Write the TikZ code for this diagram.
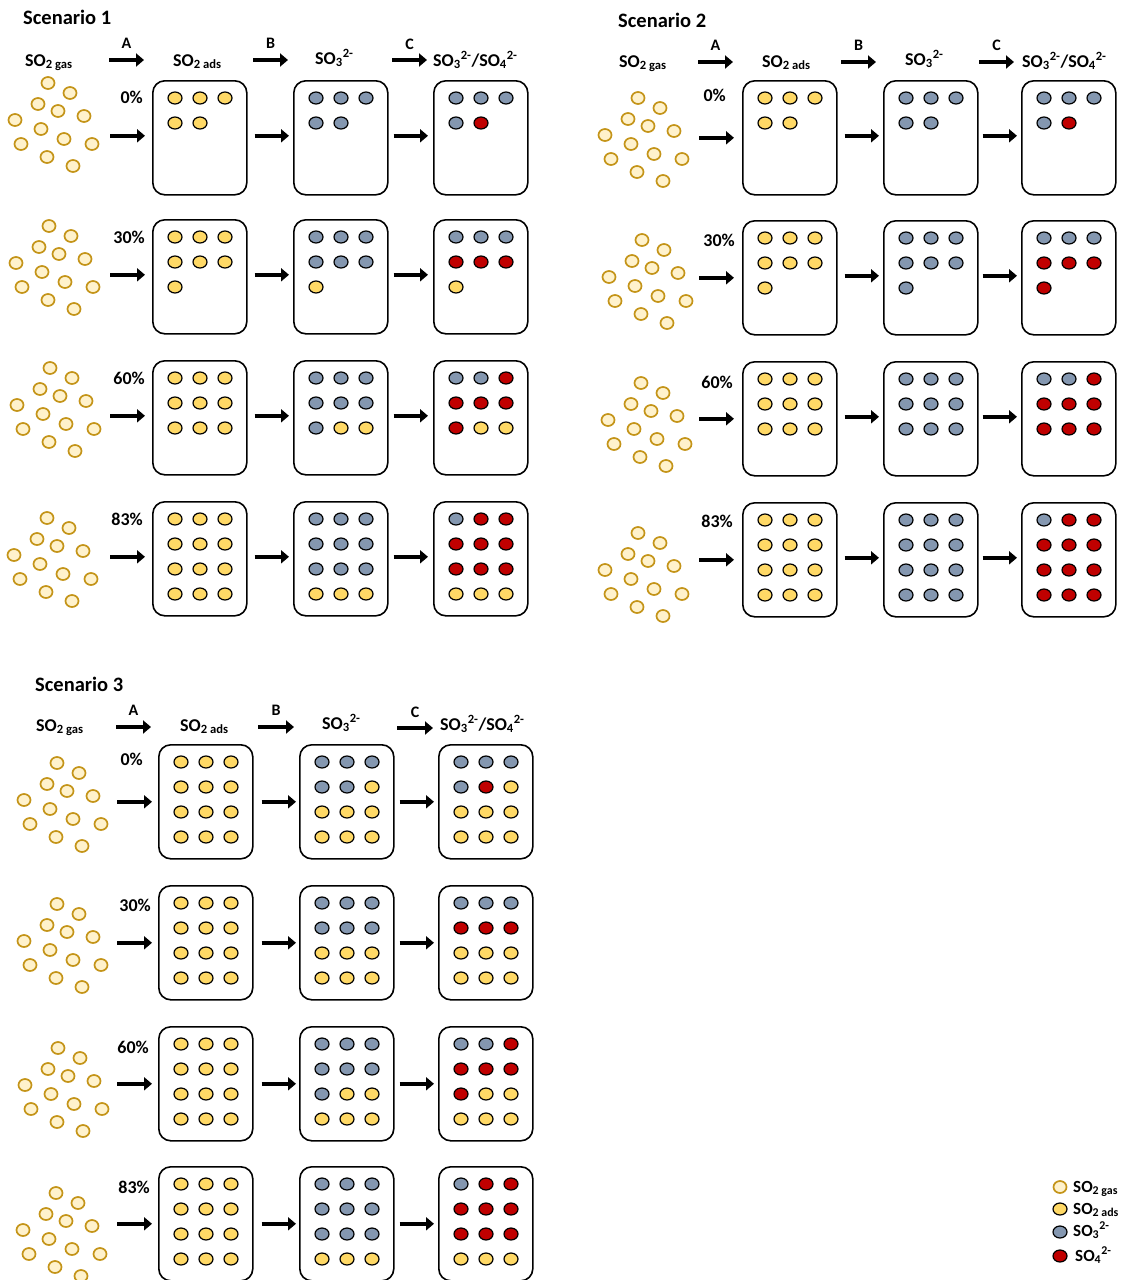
\documentclass[tikz,border=0pt]{standalone}
\usepackage{fontspec}
\setmainfont{Carlito}
\usepackage{amsmath}
\usetikzlibrary{arrows.meta,calc}

\definecolor{gasline}{RGB}{196,148,24}
\definecolor{gasfill}{RGB}{255,242,204}
\definecolor{adsfill}{RGB}{255,217,102}
\definecolor{sulfite}{RGB}{132,151,176}
\definecolor{sulfate}{RGB}{192,0,0}

% twelve gas molecules, #1,#2 = the top one
\newcommand{\gascloud}[2]{%
  \foreach \ox/\oy in {0/0,22/10,-10/21,10/28,36/33,-33/37,-7/46,16/56,44/61,-27/61,-1/74,25/83}
    \draw[gas] (#1+\ox,#2+\oy) ellipse [x radius=6.5,y radius=6];}
% surface sites of a cell, filled three per row
\newcommand{\fillcell}[2]{%
  \foreach \c [count=\k from 0] in {#2}{
    \pgfmathtruncatemacro{\dc}{mod(\k,3)}
    \pgfmathtruncatemacro{\dr}{int(\k/3)}
    \draw[dot,dot \c] ($(#1.north west)+(23+25*\dc,18+25*\dr)$) ellipse [x radius=7,y radius=6];}}
% species labels
\newcommand{\sotwo}[1]{SO$_{\text{2 #1}}$}
\newcommand{\ion}[1]{SO$_{\text{#1}}{}^{\text{2-}}$}

\begin{document}
\begin{tikzpicture}[x=1pt,y=-1pt,
  fat/.style={line width=4.5pt,-{Triangle[length=8pt,width=13pt]}},
  cell/.style={draw,line width=1.6pt,rounded corners=12pt,anchor=north west,
    minimum width=94pt,minimum height=114pt,inner sep=0pt},
  gas/.style={draw=gasline,fill=gasfill,line width=1.7pt},
  dot/.style={draw=black,line width=1.2pt},
  dot y/.style={fill=adsfill},dot g/.style={fill=sulfite},dot r/.style={fill=sulfate},
  ttl/.style={font=\fontsize{20.5}{24}\selectfont\bfseries,anchor=base west,inner sep=0pt},
  hdr/.style={font=\fontsize{18}{21}\selectfont\bfseries,anchor=base west,inner sep=0pt},
  stp/.style={font=\fontsize{16}{18}\selectfont\bfseries,inner sep=0pt},
  pct/.style={font=\fontsize{18}{21}\selectfont\bfseries,anchor=base east,inner sep=0pt},
  leg/.style={font=\fontsize{17}{19}\selectfont\bfseries,anchor=base west,inner sep=0pt}]
\useasboundingbox (0,0) rectangle (1123,1280);
\fill[white] (0,0) rectangle (1123,1280);

% scenario 1
\node[ttl] (s1) at (23,24) {Scenario 1};
\node[hdr] (s1gas) at (25,66) {\sotwo{gas}};
\node[hdr] (s1ads) at (173,66) {\sotwo{ads}};
\node[hdr] (s1so3) at (315,64) {\ion{3}};
\node[hdr] (s1mix) at (433,66) {\ion{3}/\ion{4}};
\coordinate (s1A) at (109,60);
\coordinate (s1B) at (253,60);
\coordinate (s1C) at (392,60);
\draw[fat] (s1A) -- ++(35,0) node[stp,midway,above=9pt] (s1Al) {A};
\draw[fat] (s1B) -- ++(35,0) node[stp,midway,above=9pt] (s1Bl) {B};
\draw[fat] (s1C) -- ++(35,0) node[stp,midway,above=8pt] (s1Cl) {C};
\foreach \r/\y/\p/\px/\py/\cx/\cy in {1/80/0/143/103/48/83,2/219/30/145/243/49/226,
    3/360/60/145/384/50/368,4/501/83/143/525/47/518}{
  \node[cell] (s1a\r) at (152,\y) {};
  \node[cell] (s1b\r) at (293,\y) {};
  \node[cell] (s1c\r) at (433,\y) {};
  \node[pct] (s1p\r) at (\px,\py) {\p\%};
  \gascloud{\cx}{\cy}
  \draw[fat] ([xshift=-42pt,yshift=2pt]s1a\r.west) -- ([xshift=-7pt,yshift=2pt]s1a\r.west);
  \draw[fat] ([xshift=7pt,yshift=2pt]s1a\r.east) -- ([xshift=-4pt,yshift=2pt]s1b\r.west);
  \draw[fat] ([xshift=5pt,yshift=2pt]s1b\r.east) -- ([xshift=-5pt,yshift=2pt]s1c\r.west);
}
\fillcell{s1a1}{y,y,y,y,y}\fillcell{s1b1}{g,g,g,g,g}\fillcell{s1c1}{g,g,g,g,r}
\fillcell{s1a2}{y,y,y,y,y,y,y}\fillcell{s1b2}{g,g,g,g,g,g,y}\fillcell{s1c2}{g,g,g,r,r,r,y}
\fillcell{s1a3}{y,y,y,y,y,y,y,y,y}\fillcell{s1b3}{g,g,g,g,g,g,g,y,y}\fillcell{s1c3}{g,g,r,r,r,r,r,y,y}
\fillcell{s1a4}{y,y,y,y,y,y,y,y,y,y,y,y}\fillcell{s1b4}{g,g,g,g,g,g,g,g,g,y,y,y}
\fillcell{s1c4}{g,r,r,r,r,r,r,r,r,y,y,y}

% scenario 2
\node[ttl] (s2) at (618,27) {Scenario 2};
\node[hdr] (s2gas) at (619,67) {\sotwo{gas}};
\node[hdr] (s2ads) at (762,67) {\sotwo{ads}};
\node[hdr] (s2so3) at (905,65) {\ion{3}};
\node[hdr] (s2mix) at (1022,67) {\ion{3}/\ion{4}};
\coordinate (s2A) at (698,62);
\coordinate (s2B) at (841,62);
\coordinate (s2C) at (979,62);
\draw[fat] (s2A) -- ++(35,0) node[stp,midway,above=9pt] (s2Al) {A};
\draw[fat] (s2B) -- ++(35,0) node[stp,midway,above=9pt] (s2Bl) {B};
\draw[fat] (s2C) -- ++(35,0) node[stp,midway,above=9pt] (s2Cl) {C};
\foreach \r/\y/\p/\px/\py/\cx/\cy in {1/80/0/726/101/638/98,2/220/30/735/246/642/240,
    3/361/60/733/388/641/383,4/502/83/733/527/638/533}{
  \node[cell] (s2a\r) at (742,\y) {};
  \node[cell] (s2b\r) at (883,\y) {};
  \node[cell] (s2c\r) at (1021,\y) {};
  \node[pct] (s2p\r) at (\px,\py) {\p\%};
  \gascloud{\cx}{\cy}
  \draw[fat] ([xshift=-43pt]s2a\r.west) -- ([xshift=-8pt]s2a\r.west);
  \draw[fat] ([xshift=7pt,yshift=2pt]s2a\r.east) -- ([xshift=-4pt,yshift=2pt]s2b\r.west);
  \draw[fat] ([xshift=4pt,yshift=2pt]s2b\r.east) -- ([xshift=-4pt,yshift=2pt]s2c\r.west);
}
\fillcell{s2a1}{y,y,y,y,y}\fillcell{s2b1}{g,g,g,g,g}\fillcell{s2c1}{g,g,g,g,r}
\fillcell{s2a2}{y,y,y,y,y,y,y}\fillcell{s2b2}{g,g,g,g,g,g,g}\fillcell{s2c2}{g,g,g,r,r,r,r}
\fillcell{s2a3}{y,y,y,y,y,y,y,y,y}\fillcell{s2b3}{g,g,g,g,g,g,g,g,g}\fillcell{s2c3}{g,g,r,r,r,r,r,r,r}
\fillcell{s2a4}{y,y,y,y,y,y,y,y,y,y,y,y}\fillcell{s2b4}{g,g,g,g,g,g,g,g,g,g,g,g}
\fillcell{s2c4}{g,r,r,r,r,r,r,r,r,r,r,r}

% scenario 3
\node[ttl] (s3) at (35,691) {Scenario 3};
\node[hdr] (s3gas) at (36,731) {\sotwo{gas}};
\node[hdr] (s3ads) at (180,731) {\sotwo{ads}};
\node[hdr] (s3so3) at (322,729) {\ion{3}};
\node[hdr] (s3mix) at (440,730) {\ion{3}/\ion{4}};
\coordinate (s3A) at (116,727);
\coordinate (s3B) at (258,727);
\coordinate (s3C) at (397,728);
\draw[fat] (s3A) -- ++(35,0) node[stp,midway,above=9pt] (s3Al) {A};
\draw[fat] (s3B) -- ++(36,0) node[stp,midway,above=9pt] (s3Bl) {B};
\draw[fat] (s3C) -- ++(36,0) node[stp,midway,above=8pt] (s3Cl) {C};
\foreach \r/\y/\p/\px/\py/\cx/\cy in {1/744/0/143/765/57/763,2/885/30/151/911/57/904,
    3/1026/60/149/1053/58/1048,4/1166/83/150/1193/56/1193}{
  \node[cell] (s3a\r) at (158,\y) {};
  \node[cell] (s3b\r) at (299,\y) {};
  \node[cell] (s3c\r) at (438,\y) {};
  \node[pct] (s3p\r) at (\px,\py) {\p\%};
  \gascloud{\cx}{\cy}
  \draw[fat] ([xshift=-41pt]s3a\r.west) -- ([xshift=-6pt]s3a\r.west);
  \draw[fat] ([xshift=8pt]s3a\r.east) -- ([xshift=-3pt]s3b\r.west);
  \draw[fat] ([xshift=5pt]s3b\r.east) -- ([xshift=-4pt]s3c\r.west);
}
\fillcell{s3a1}{y,y,y,y,y,y,y,y,y,y,y,y}\fillcell{s3b1}{g,g,g,g,g,y,y,y,y,y,y,y}
\fillcell{s3c1}{g,g,g,g,r,y,y,y,y,y,y,y}
\fillcell{s3a2}{y,y,y,y,y,y,y,y,y,y,y,y}\fillcell{s3b2}{g,g,g,g,g,g,y,y,y,y,y,y}
\fillcell{s3c2}{g,g,g,r,r,r,y,y,y,y,y,y}
\fillcell{s3a3}{y,y,y,y,y,y,y,y,y,y,y,y}\fillcell{s3b3}{g,g,g,g,g,g,g,y,y,y,y,y}
\fillcell{s3c3}{g,g,r,r,r,r,r,y,y,y,y,y}
\fillcell{s3a4}{y,y,y,y,y,y,y,y,y,y,y,y}\fillcell{s3b4}{g,g,g,g,g,g,g,g,g,y,y,y}
\fillcell{s3c4}{g,r,r,r,r,r,r,r,r,y,y,y}

% legend
\draw[gas] (1060,1187) ellipse [x radius=6.5,y radius=6];
\draw[dot,dot y] (1060,1209) ellipse [x radius=7,y radius=6];
\draw[dot,dot g] (1060,1232) ellipse [x radius=7,y radius=6];
\draw[dot,dot r] (1060,1256) ellipse [x radius=7,y radius=6];
\node[leg] (lgas) at (1073,1192) {\sotwo{gas}};
\node[leg] (lads) at (1073,1214) {\sotwo{ads}};
\node[leg] (lso3) at (1073,1236) {\ion{3}};
\node[leg] (lso4) at (1075,1261) {\ion{4}};
\end{tikzpicture}
\end{document}
